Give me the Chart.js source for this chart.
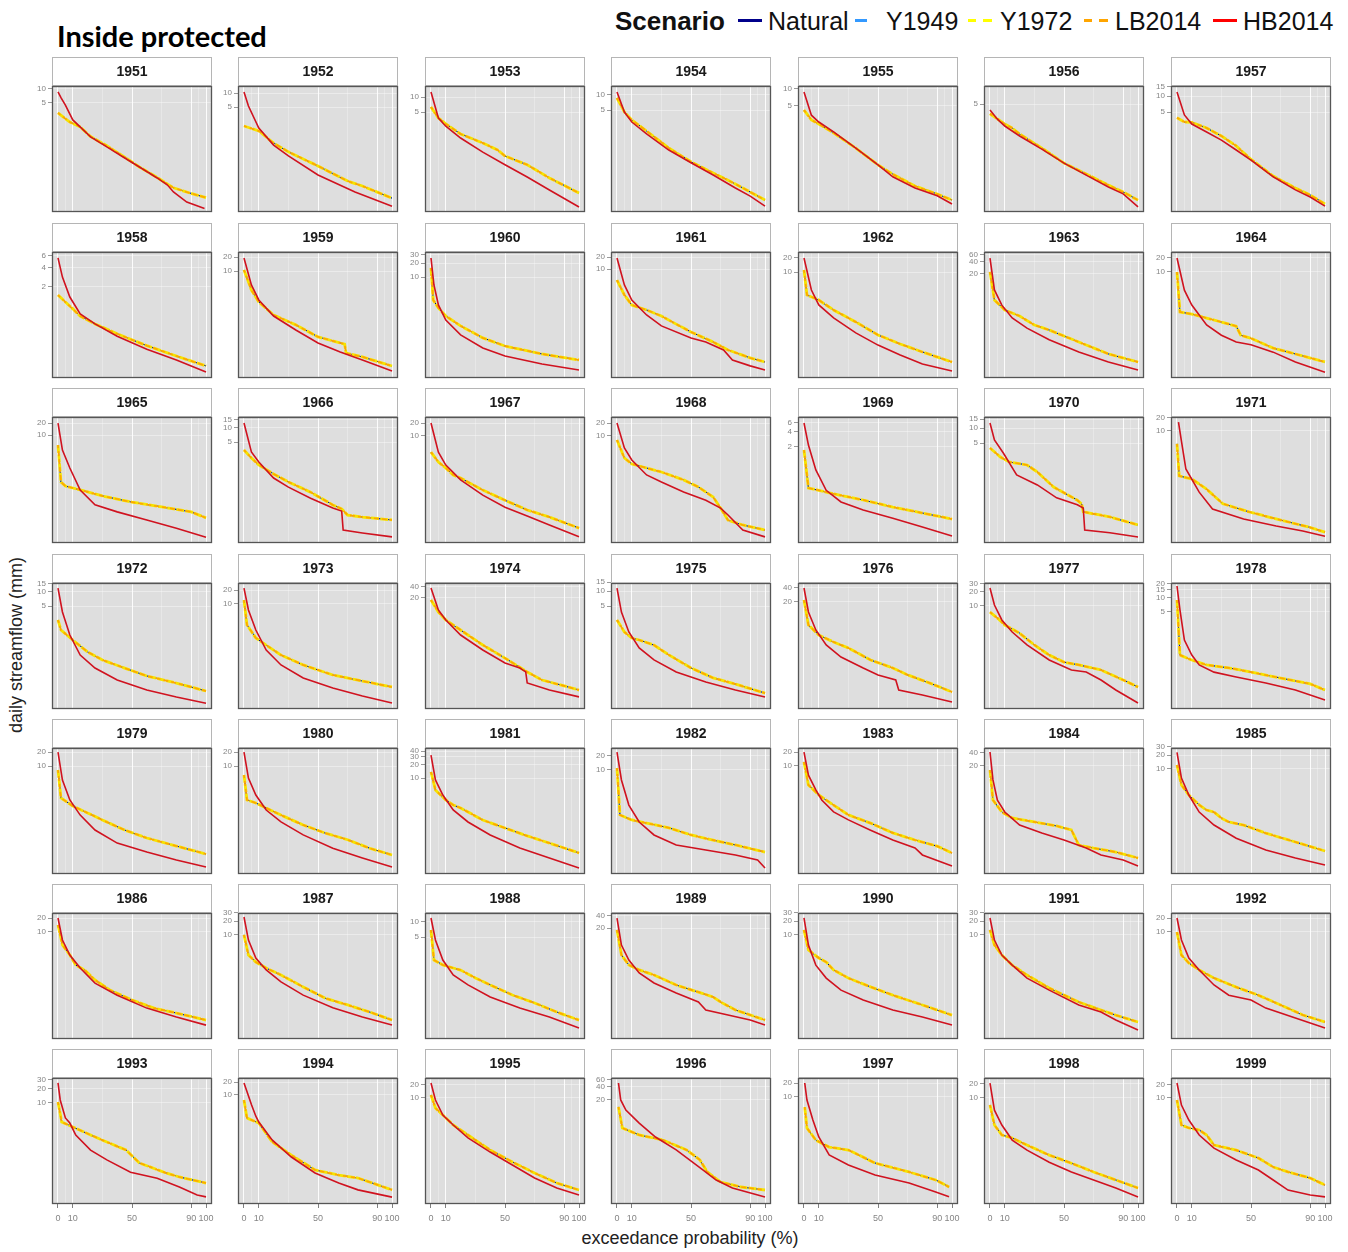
<!DOCTYPE html>
<html>
<head>
<meta charset="utf-8">
<script src="https://cdn.jsdelivr.net/npm/chart.js@4.4.1/dist/chart.umd.min.js"></script>
<style>
  html, body { margin: 0; padding: 0; background: #fff; }
  body { width: 1348px; height: 1252px; position: relative; overflow: hidden;
         font-family: "Liberation Sans", Arial, sans-serif; }
  canvas.panel { position: absolute; }
  #title { position: absolute; left: 57px; top: 18px; font: 700 29px Lato, sans-serif; color: #000; white-space: nowrap; }
  .leg { position: absolute; top: 6px; font-size: 25px; line-height: 30px; color: #111; white-space: nowrap; }
  .leg.head { font-weight: 700; font-size: 26px; }
  .key { position: absolute; top: 19px; height: 3px; }
  .axis-title { position: absolute; font-size: 18px; color: #222; white-space: nowrap; }
</style>
</head>
<body>
<div id="title">Inside protected</div>

<div class="leg head" style="left:615px">Scenario</div>
<div class="key" style="left:738px;width:24px;background:#00008b"></div>
<div class="leg" style="left:768px">Natural</div>
<div class="key" style="left:855px;width:12px;background:#3399ff"></div>
<div class="leg" style="left:886px">Y1949</div>
<div class="key" style="left:968px;width:8px;background:#ffff00"></div>
<div class="key" style="left:983px;width:9px;background:#ffff00"></div>
<div class="leg" style="left:1000px">Y1972</div>
<div class="key" style="left:1084px;width:8px;background:#ffa500"></div>
<div class="key" style="left:1099px;width:9px;background:#ffa500"></div>
<div class="leg" style="left:1115px">LB2014</div>
<div class="key" style="left:1213px;width:24px;background:#ff0000"></div>
<div class="leg" style="left:1243px">HB2014</div>

<div class="axis-title" style="left:16px;top:645px;transform:translate(-50%,-50%) rotate(-90deg)">daily streamflow (mm)</div>
<div class="axis-title" style="left:690px;top:1238px;transform:translate(-50%,-50%)">exceedance probability (%)</div>

<script>
// Years shown, one facet each (7 x 7 grid)
const years = [1951,1952,1953,1954,1955,1956,1957,
               1958,1959,1960,1961,1962,1963,1964,
               1965,1966,1967,1968,1969,1970,1971,
               1972,1973,1974,1975,1976,1977,1978,
               1979,1980,1981,1982,1983,1984,1985,
               1986,1987,1988,1989,1990,1991,1992,
               1993,1994,1995,1996,1997,1998,1999];

// Labelled y breaks (mm) for each facet
const yTickLabels = [
  [5,10],[5,10],[5,10],[5,10],[5,10],[5],[5,10,15],
  [2,4,6],[10,20],[10,20,30],[10,20],[10,20],[20,40,60],[10,20],
  [10,20],[5,10,15],[10,20],[10,20],[2,4,6],[5,10,15],[10,20],
  [5,10,15],[10,20],[20,40],[5,10,15],[20,40],[10,20,30],[5,10,15,20],
  [10,20],[10,20],[10,20,30,40],[10,20],[10,20],[20,40],[10,20,30],
  [10,20],[10,20,30],[5,10],[20,40],[10,20,30],[10,20,30],[10,20],
  [10,20,30],[10,20],[10,20],[20,40,60],[10,20],[10,20],[10,20]
];

// Free y range (log scale) for each facet: [lower, upper] in mm
const yLimits = [
  [0.0226,11.6],[0.0294,14.1],[0.050,16.6],[0.0456,15.1],[0.0635,11.3],[0.0347,11.5],[0.065,15.5],
  [0.0795,6.9],[0.0533,25.6],[0.0715,34.3],[0.0189,26.7],[0.0558,26.8],[0.042,71.5],[0.0493,27],
  [0.020,28.3],[0.0356,17.1],[0.0324,27.6],[0.0324,27.6],[0.0239,7.9],[0.050,16.6],[0.0302,20.5],
  [0.0323,15.5],[0.0518,28.4],[0.01815,51.4],[0.0438,14.5],[0.0998,51.2],[0.0608,31.2],[0.0427,20.5],
  [0.0476,24.4],[0.0476,24.4],[0.074,46.7],[0.0579,29.7],[0.0447,24.5],[0.0611,52],[0.0518,28.4],
  [0.0469,25.7],[0.0546,29.9],[0.0456,15.1],[0.0336,47.5],[0.0546,29.9],[0.0546,29.9],[0.0469,25.7],
  [0.0782,33],[0.0291,24.8],[0.0341,29],[0.065,65],[0.0469,25.7],[0.0493,27],[0.0341,29]
];

// HB2014 flow duration curves: [exceedance %, daily streamflow mm]
const hb2014 = [
  /*1951*/ [[0,8.7],[2,6.5],[5,4.5],[10,2.16],[22,0.93],[33,0.57],[44,0.345],[55,0.21],[67,0.122],[74,0.086],[78,0.061],[87,0.037],[99,0.027]],
  /*1952*/ [[0,10.5],[3,5.3],[10,1.8],[20,0.78],[30,0.46],[50,0.18],[75,0.078],[100,0.039]],
  /*1953*/ [[0,12.6],[5,3.8],[10,2.6],[20,1.51],[35,0.79],[50,0.44],[65,0.25],[80,0.138],[100,0.063]],
  /*1954*/ [[0,11.5],[5,4.56],[10,2.87],[20,1.66],[35,0.79],[50,0.44],[65,0.25],[80,0.138],[90,0.095],[100,0.06]],
  /*1955*/ [[0,8.8],[5,3.4],[10,2.57],[20,1.71],[35,0.88],[50,0.44],[60,0.27],[75,0.171],[90,0.124],[100,0.088]],
  /*1956*/ [[0,3.8],[5,2.5],[10,1.82],[20,1.15],[35,0.63],[50,0.33],[65,0.19],[80,0.11],[90,0.08],[100,0.044]],
  /*1957*/ [[0,11.9],[5,4.4],[10,2.97],[20,2.1],[30,1.48],[40,0.96],[50,0.62],[65,0.3],[80,0.17],[90,0.125],[100,0.084]],
  /*1958*/ [[0,5.6],[3,2.84],[8,1.4],[15,0.77],[25,0.54],[40,0.35],[60,0.22],[80,0.15],[100,0.098]],
  /*1959*/ [[0,19.1],[5,5.1],[10,2.44],[20,1.11],[35,0.56],[50,0.297],[65,0.19],[80,0.129],[100,0.075]],
  /*1960*/ [[0,25.6],[2,6.8],[5,2.56],[10,1.22],[20,0.59],[35,0.31],[50,0.21],[75,0.142],[100,0.106]],
  /*1961*/ [[0,18.9],[5,4.0],[10,1.68],[20,0.71],[30,0.38],[50,0.19],[60,0.15],[72,0.095],[78,0.053],[90,0.038],[100,0.03]],
  /*1962*/ [[0,20],[5,4.16],[10,2.0],[20,1.06],[35,0.51],[50,0.28],[65,0.173],[80,0.111],[100,0.079]],
  /*1963*/ [[0,50],[3,7.6],[8,3.1],[15,1.45],[25,0.8],[40,0.4],[60,0.195],[80,0.108],[100,0.067]],
  /*1964*/ [[0,20],[5,4.0],[10,1.9],[20,0.7],[30,0.42],[40,0.3],[50,0.26],[65,0.18],[80,0.11],[100,0.066]],
  /*1965*/ [[0,20],[3,4.2],[8,1.5],[15,0.42],[25,0.18],[40,0.12],[60,0.075],[80,0.047],[100,0.028]],
  /*1966*/ [[0,12.7],[5,3.08],[10,1.89],[20,0.86],[30,0.55],[45,0.32],[60,0.198],[66,0.171],[67,0.067],[80,0.058],[100,0.048]],
  /*1967*/ [[0,20],[5,4.2],[10,2.1],[20,0.95],[35,0.42],[50,0.22],[65,0.138],[80,0.085],[100,0.045]],
  /*1968*/ [[0,20],[5,5.25],[10,2.76],[20,1.24],[30,0.85],[45,0.5],[60,0.32],[70,0.21],[75,0.145],[85,0.065],[100,0.045]],
  /*1969*/ [[0,6.0],[3,2.17],[8,0.69],[15,0.27],[25,0.158],[40,0.109],[60,0.075],[80,0.05],[100,0.033]],
  /*1970*/ [[0,12.6],[3,5.76],[9,3.16],[18,1.15],[32,0.725],[45,0.4],[59,0.29],[63,0.25],[64,0.091],[81,0.08],[100,0.066]],
  /*1971*/ [[1,15.8],[3,5.9],[6,1.39],[15,0.42],[24,0.176],[45,0.105],[67,0.073],[85,0.056],[100,0.043]],
  /*1972*/ [[0,12.1],[3,3.75],[8,1.21],[15,0.455],[25,0.24],[40,0.134],[60,0.082],[80,0.058],[100,0.043]],
  /*1973*/ [[0,22],[3,7.35],[8,2.7],[15,0.99],[25,0.47],[40,0.245],[60,0.148],[80,0.099],[100,0.07]],
  /*1974*/ [[0,37.5],[5,9.35],[10,4.98],[20,1.93],[35,0.75],[50,0.33],[60,0.24],[64,0.188],[65,0.094],[80,0.06],[100,0.039]],
  /*1975*/ [[0,11.5],[3,3.8],[8,1.52],[15,0.73],[25,0.42],[40,0.24],[60,0.152],[80,0.105],[100,0.076]],
  /*1976*/ [[0,40],[3,12.2],[8,5.0],[15,2.38],[25,1.31],[40,0.76],[50,0.54],[62,0.42],[64,0.256],[80,0.2],[100,0.141]],
  /*1977*/ [[0,24.4],[3,10.5],[8,5.0],[15,2.75],[25,1.45],[40,0.69],[55,0.42],[65,0.38],[75,0.256],[85,0.156],[100,0.082]],
  /*1978*/ [[0,17.7],[2,5.5],[5,1.25],[10,0.6],[15,0.37],[25,0.26],[40,0.205],[60,0.153],[80,0.108],[100,0.066]],
  /*1979*/ [[0,20],[3,5.0],[8,1.86],[15,0.88],[25,0.42],[40,0.22],[60,0.141],[80,0.095],[100,0.067]],
  /*1980*/ [[0,20],[3,5.5],[8,2.38],[15,1.13],[25,0.63],[40,0.33],[60,0.17],[80,0.105],[100,0.067]],
  /*1981*/ [[0,32.6],[3,9.1],[8,4.2],[15,1.96],[25,1.06],[40,0.545],[60,0.28],[80,0.168],[100,0.1]],
  /*1982*/ [[0,24.3],[3,6.1],[8,1.76],[15,0.76],[25,0.4],[40,0.244],[60,0.19],[80,0.149],[95,0.116],[100,0.078]],
  /*1983*/ [[0,20],[3,6.3],[8,3.0],[12,1.82],[20,1.0],[30,0.67],[45,0.4],[60,0.245],[75,0.164],[80,0.116],[100,0.067]],
  /*1984*/ [[0,42],[2,9.4],[5,3.2],[10,1.69],[20,0.84],[35,0.55],[50,0.376],[65,0.245],[75,0.169],[90,0.129],[100,0.094]],
  /*1985*/ [[0,22.8],[3,6.3],[8,2.7],[15,1.15],[25,0.6],[40,0.31],[60,0.172],[80,0.115],[100,0.081]],
  /*1986*/ [[0,20],[3,6.65],[8,3.14],[15,1.64],[25,0.77],[40,0.42],[60,0.22],[80,0.141],[100,0.094]],
  /*1987*/ [[0,24.5],[3,7.7],[8,3.15],[15,1.73],[25,0.95],[40,0.49],[60,0.26],[80,0.164],[100,0.11]],
  /*1988*/ [[0,12],[3,4.35],[8,1.73],[15,0.87],[25,0.55],[40,0.316],[60,0.19],[80,0.126],[100,0.076]],
  /*1989*/ [[0,35.6],[3,7.5],[8,3.17],[15,1.5],[25,0.845],[40,0.475],[55,0.283],[60,0.179],[75,0.134],[90,0.1],[100,0.075]],
  /*1990*/ [[0,23.3],[3,6.0],[8,2.2],[15,1.15],[25,0.63],[40,0.384],[60,0.233],[80,0.164],[100,0.11]],
  /*1991*/ [[0,23.3],[3,7.7],[8,3.65],[15,2.2],[25,1.15],[40,0.63],[60,0.3],[75,0.21],[85,0.141],[100,0.086]],
  /*1992*/ [[0,20],[3,6.65],[8,2.7],[15,1.48],[25,0.7],[35,0.42],[50,0.33],[60,0.22],[80,0.134],[100,0.081]],
  /*1993*/ [[0,26],[1.5,11.5],[5,4.85],[8,3.8],[12,2.14],[22,1.04],[33,0.65],[49,0.36],[67,0.27],[82,0.177],[94,0.12],[100,0.11]],
  /*1994*/ [[0,19],[2,12],[5,6],[8,3.2],[10,2.35],[19,0.9],[32,0.36],[48,0.153],[64,0.09],[77,0.062],[100,0.042]],
  /*1995*/ [[0,22.2],[3,8.9],[8,4.0],[15,2.34],[25,1.17],[40,0.55],[55,0.275],[70,0.137],[85,0.08],[100,0.055]],
  /*1996*/ [[1,49.4],[2.5,19.5],[6,11.2],[15,5.5],[26,2.56],[40,1.26],[49,0.73],[58,0.42],[67,0.242],[78,0.156],[100,0.095]],
  /*1997*/ [[0.5,20],[2,8.55],[6,3.14],[10,1.34],[17,0.545],[30,0.33],[48,0.2],[71,0.134],[89,0.086],[98,0.067]],
  /*1998*/ [[0,21],[3,5.4],[8,2.57],[15,1.21],[25,0.73],[40,0.4],[55,0.245],[70,0.164],[85,0.11],[100,0.07]],
  /*1999*/ [[0,22.2],[3,6.8],[8,3.06],[15,1.37],[25,0.68],[40,0.36],[55,0.21],[65,0.123],[75,0.072],[90,0.055],[100,0.05]]
];

// Natural, Y1949, Y1972 and LB2014 curves lie on top of each other at this scale
const baseFlows = [
  /*1951*/ [[0,3.05],[8,1.95],[15,1.53],[22,0.95],[33,0.6],[44,0.36],[55,0.21],[67,0.125],[74,0.09],[78,0.075],[89,0.058],[100,0.046]],
  /*1952*/ [[0,1.99],[10,1.56],[20,0.86],[30,0.56],[50,0.28],[70,0.134],[80,0.105],[100,0.058]],
  /*1953*/ [[0,6.3],[5,3.8],[10,2.9],[20,1.82],[35,1.2],[45,0.87],[50,0.66],[65,0.44],[80,0.24],[100,0.12]],
  /*1954*/ [[0,8.7],[5,4.56],[10,3.16],[20,1.9],[35,0.87],[50,0.46],[65,0.275],[80,0.166],[100,0.079]],
  /*1955*/ [[0,4.2],[5,2.8],[10,2.37],[20,1.64],[35,0.88],[50,0.44],[60,0.3],[75,0.185],[90,0.133],[100,0.104]],
  /*1956*/ [[0,3.2],[10,2.0],[15,1.66],[20,1.26],[35,0.66],[50,0.33],[65,0.2],[80,0.12],[90,0.087],[100,0.06]],
  /*1957*/ [[0,3.9],[5,3.25],[10,3.2],[20,2.5],[30,1.77],[40,1.15],[50,0.64],[65,0.31],[80,0.184],[90,0.136],[100,0.092]],
  /*1958*/ [[0,1.5],[5,1.17],[10,0.92],[15,0.71],[25,0.54],[40,0.38],[60,0.25],[80,0.173],[100,0.122]],
  /*1959*/ [[0,10.6],[5,3.97],[10,2.21],[20,1.17],[35,0.72],[50,0.4],[68,0.28],[69,0.18],[80,0.15],[100,0.096]],
  /*1960*/ [[0,15.7],[1.5,3.27],[5,2.21],[10,1.49],[20,0.92],[35,0.51],[50,0.343],[75,0.232],[100,0.173]],
  /*1961*/ [[0,5.3],[5,2.25],[10,1.26],[20,0.95],[30,0.67],[40,0.42],[50,0.267],[65,0.15],[75,0.095],[90,0.06],[100,0.0475]],
  /*1962*/ [[0,11.1],[2,3.26],[10,2.55],[20,1.56],[35,0.87],[50,0.46],[65,0.296],[80,0.2],[100,0.122]],
  /*1963*/ [[0,22],[3,4.2],[10,2.33],[20,1.63],[30,0.96],[40,0.715],[50,0.5],[65,0.295],[80,0.174],[100,0.108]],
  /*1964*/ [[0,9.9],[2,1.34],[10,1.21],[20,0.99],[30,0.81],[40,0.66],[43,0.42],[50,0.36],[65,0.22],[80,0.164],[100,0.11]],
  /*1965*/ [[0,5.6],[2,0.67],[5,0.53],[10,0.475],[20,0.38],[30,0.3],[50,0.21],[70,0.16],[90,0.12],[100,0.085]],
  /*1966*/ [[0,3.4],[5,2.3],[10,1.63],[20,1.05],[30,0.71],[45,0.43],[60,0.23],[66,0.19],[70,0.14],[80,0.127],[100,0.11]],
  /*1967*/ [[0,4.2],[5,2.48],[10,1.8],[15,1.24],[20,1.05],[35,0.55],[50,0.32],[65,0.19],[80,0.13],[100,0.072]],
  /*1968*/ [[0,8.05],[5,3.07],[10,2.23],[20,1.8],[30,1.45],[45,0.95],[55,0.65],[65,0.38],[70,0.21],[75,0.11],[85,0.085],[100,0.065]],
  /*1969*/ [[0,1.73],[3,0.3],[10,0.27],[20,0.23],[40,0.173],[60,0.125],[80,0.095],[100,0.072]],
  /*1970*/ [[0,3.98],[7,2.63],[13,2.09],[25,1.82],[32,1.32],[43,0.66],[59,0.36],[62,0.3],[63,0.21],[81,0.166],[100,0.115]],
  /*1971*/ [[0,5.1],[1.5,0.97],[10,0.83],[20,0.49],[31,0.23],[49,0.15],[67,0.105],[89,0.069],[100,0.053]],
  /*1972*/ [[0,2.53],[2,1.55],[10,0.95],[20,0.53],[30,0.357],[45,0.24],[60,0.163],[80,0.115],[100,0.078]],
  /*1973*/ [[0,12.1],[2,3.47],[8,1.81],[15,1.27],[25,0.77],[40,0.47],[60,0.284],[80,0.21],[100,0.156]],
  /*1974*/ [[0,17.6],[5,8.2],[10,4.98],[20,2.65],[35,1.03],[50,0.45],[65,0.188],[75,0.113],[90,0.078],[100,0.06]],
  /*1975*/ [[0,2.64],[5,1.52],[10,1.15],[15,1.05],[25,0.83],[35,0.53],[50,0.29],[65,0.183],[80,0.138],[100,0.091]],
  /*1976*/ [[0,22],[3,6.4],[10,3.9],[20,2.75],[30,2.05],[45,1.13],[60,0.76],[70,0.54],[85,0.36],[100,0.232]],
  /*1977*/ [[0,7.4],[5,5.5],[10,3.9],[20,2.6],[30,1.45],[40,0.88],[50,0.62],[60,0.54],[75,0.42],[90,0.256],[100,0.18]],
  /*1978*/ [[0,8.9],[2,0.6],[10,0.47],[20,0.37],[35,0.32],[50,0.26],[70,0.195],[90,0.146],[100,0.108]],
  /*1979*/ [[0,8.2],[2,2.05],[10,1.38],[20,0.98],[30,0.69],[45,0.42],[60,0.283],[80,0.19],[100,0.128]],
  /*1980*/ [[0,6.4],[2,1.86],[8,1.6],[15,1.25],[25,0.88],[40,0.54],[55,0.36],[70,0.26],[85,0.17],[100,0.122]],
  /*1981*/ [[0,13.7],[3,5.45],[10,3.26],[15,2.53],[20,2.17],[35,1.17],[50,0.78],[65,0.52],[80,0.36],[100,0.217]],
  /*1982*/ [[0,11],[2,1.08],[10,0.84],[20,0.72],[35,0.57],[50,0.4],[65,0.31],[80,0.244],[100,0.172]],
  /*1983*/ [[0,12.2],[3,3.85],[10,2.33],[20,1.41],[30,0.86],[45,0.57],[60,0.35],[75,0.245],[90,0.18],[100,0.128]],
  /*1984*/ [[0,16],[2,3.2],[8,1.69],[15,1.23],[30,0.99],[45,0.8],[55,0.645],[60,0.288],[70,0.245],[85,0.198],[100,0.144]],
  /*1985*/ [[0,12.1],[3,4.46],[8,2.7],[15,1.64],[20,1.27],[25,1.15],[30,0.85],[35,0.7],[45,0.6],[60,0.4],[80,0.257],[100,0.164]],
  /*1986*/ [[0,14.1],[3,5.2],[8,3.14],[12,1.9],[18,1.48],[25,0.9],[35,0.545],[50,0.33],[65,0.22],[80,0.172],[100,0.121]],
  /*1987*/ [[0,10],[3,3.65],[8,2.57],[15,1.9],[25,1.34],[40,0.74],[55,0.42],[70,0.3],[85,0.21],[100,0.141]],
  /*1988*/ [[0,6.9],[2,1.73],[8,1.38],[15,1.2],[20,1.09],[30,0.76],[40,0.55],[55,0.346],[70,0.24],[85,0.158],[100,0.109]],
  /*1989*/ [[0,17.9],[3,4.23],[8,2.38],[15,1.79],[25,1.34],[40,0.75],[55,0.5],[65,0.377],[70,0.283],[80,0.179],[100,0.1]],
  /*1990*/ [[0,12.8],[3,4.7],[10,3.15],[15,2.57],[20,1.73],[30,1.15],[45,0.74],[60,0.49],[80,0.3],[100,0.18]],
  /*1991*/ [[0,12.8],[3,6.0],[8,3.65],[15,2.2],[25,1.34],[40,0.7],[60,0.347],[75,0.233],[85,0.18],[100,0.128]],
  /*1992*/ [[0,9.9],[3,3.14],[8,2.1],[15,1.48],[25,0.99],[40,0.63],[55,0.42],[70,0.257],[85,0.156],[100,0.11]],
  /*1993*/ [[0,10.4],[2.5,4.0],[10,3.15],[22,2.14],[33,1.53],[46,1.04],[55,0.56],[73,0.347],[82,0.286],[100,0.214]],
  /*1994*/ [[0,7.6],[2,2.9],[10,2.23],[19,0.81],[32,0.4],[48,0.18],[64,0.137],[77,0.117],[100,0.062]],
  /*1995*/ [[0,11.7],[3,5.8],[8,4.0],[15,2.34],[25,1.37],[40,0.615],[55,0.323],[70,0.179],[85,0.105],[100,0.072]],
  /*1996*/ [[1,13.3],[3.6,4.2],[15,2.86],[31,2.17],[47,1.26],[56,0.73],[61,0.376],[70,0.217],[84,0.165],[100,0.14]],
  /*1997*/ [[0.5,6.0],[2,2.1],[8,1.15],[17,0.81],[30,0.7],[48,0.365],[71,0.233],[89,0.156],[98,0.11]],
  /*1998*/ [[0,7.0],[3,2.57],[8,1.56],[15,1.34],[25,0.94],[40,0.57],[55,0.38],[70,0.245],[85,0.164],[100,0.11]],
  /*1999*/ [[0,8.9],[3,2.34],[8,2.0],[15,1.79],[20,1.37],[25,0.8],[40,0.61],[55,0.4],[65,0.247],[75,0.19],[90,0.137],[100,0.094]]
];

// Exceedance breaks: labelled majors and unlabelled minors
const xMajor = [0, 10, 50, 90, 100];
const xMinor = [5, 30, 70, 95];

// ---- layout of the facet grid ----
const colLeft = [52, 238, 425, 611, 798, 984, 1171];   // left edge of each panel
const rowTop  = [86, 252, 417, 583, 748, 913, 1078];   // top edge of each panel
const PANEL_W = 160, PANEL_H = 126, STRIP_H = 30, YAXIS_W = 24, XAXIS_H = 24;

Chart.defaults.font.family = '"Liberation Sans", Arial, sans-serif';
Chart.defaults.animation = false;

// Grey panel, white strip with the year, dark panel frame
const facetDecor = {
  id: 'facetDecor',
  beforeDraw(chart, args, opts) {
    const { ctx, chartArea: a } = chart;
    ctx.save();
    ctx.fillStyle = '#dedede';
    ctx.fillRect(a.left, a.top, a.right - a.left, a.bottom - a.top);
    ctx.fillStyle = '#ffffff';
    ctx.fillRect(a.left, a.top - STRIP_H + 1, a.right - a.left, STRIP_H - 1);
    ctx.strokeStyle = '#b5b5b5';
    ctx.lineWidth = 1;
    ctx.strokeRect(a.left + 0.5, a.top - STRIP_H + 1.5, a.right - a.left - 1, STRIP_H - 2);
    ctx.fillStyle = '#1a1a1a';
    ctx.font = 'bold 14px "Liberation Sans", Arial, sans-serif';
    ctx.textAlign = 'center';
    ctx.textBaseline = 'middle';
    ctx.fillText(opts.label, (a.left + a.right) / 2, a.top - STRIP_H / 2 + 1);
    ctx.restore();
  },
  afterDatasetsDraw(chart) {
    const { ctx, chartArea: a } = chart;
    ctx.save();
    ctx.strokeStyle = '#555555';
    ctx.lineWidth = 1.3;
    ctx.strokeRect(a.left + 0.5, a.top + 0.5, a.right - a.left - 1, a.bottom - a.top - 1);
    ctx.restore();
  }
};

const toXY = pts => pts.map(([x, y]) => ({ x, y }));

years.forEach((year, i) => {
  const r = Math.floor(i / 7), c = i % 7;
  const bottom = r === 6;
  const canvas = document.createElement('canvas');
  canvas.className = 'panel';
  canvas.width = YAXIS_W + PANEL_W + 4;
  canvas.height = STRIP_H + PANEL_H + (bottom ? XAXIS_H : 1);
  canvas.style.left = (colLeft[c] - YAXIS_W) + 'px';
  canvas.style.top = (rowTop[r] - STRIP_H) + 'px';
  document.body.appendChild(canvas);

  const base = toXY(baseFlows[i]);
  const line = (label, data, color, width, order, dash, offset) => ({
    label, data, borderColor: color, backgroundColor: color, borderWidth: width,
    borderDash: dash || [], borderDashOffset: offset || 0, order,
    pointRadius: 0, tension: 0, fill: false
  });

  new Chart(canvas, {
    type: 'line',
    data: {
      datasets: [
        line('Natural', base, '#00008b', 1.0, 3),
        line('Y1949', base, '#3399ff', 1.0, 4),
        line('Y1972', base, '#f5e400', 2.8, 2, [8, 1.2]),
        line('LB2014', base, '#ffa500', 1.6, 1, [5, 3], 2),
        line('HB2014', toXY(hb2014[i]), '#d0121f', 1.6, 0)
      ]
    },
    options: {
      responsive: false,
      devicePixelRatio: 1,
      animation: false,
      events: [],
      layout: { padding: { top: STRIP_H, left: 0, right: 4, bottom: bottom ? 0 : 1 } },
      plugins: {
        legend: { display: false },
        tooltip: { enabled: false },
        facetDecor: { label: String(year) }
      },
      scales: {
        x: {
          type: 'linear', bounds: 'data', min: -4.05, max: 104.05,
          afterBuildTicks: s => { s.ticks = [...xMajor, ...xMinor].sort((a, b) => a - b).map(v => ({ value: v })); },
          afterFit: s => { s.height = bottom ? XAXIS_H : 0; s.paddingLeft = 0; s.paddingRight = 0; },
          border: { display: false },
          grid: {
            color: ctx => xMajor.includes(ctx.tick && ctx.tick.value) ? 'rgba(255,255,255,0.9)' : 'rgba(255,255,255,0.45)',
            lineWidth: ctx => xMajor.includes(ctx.tick && ctx.tick.value) ? 1 : 0.6,
            drawTicks: bottom, tickLength: 4,
            tickColor: ctx => xMajor.includes(ctx.tick && ctx.tick.value) ? '#808080' : 'rgba(0,0,0,0)'
          },
          ticks: {
            display: bottom, autoSkip: false, maxRotation: 0, padding: 5,
            font: { size: 9 }, color: '#858585',
            callback: v => xMajor.includes(v) ? String(v) : ''
          }
        },
        y: {
          type: 'logarithmic', bounds: 'data', min: yLimits[i][0], max: yLimits[i][1],
          afterBuildTicks: s => { s.ticks = yTickLabels[i].map(v => ({ value: v })); },
          afterFit: s => { s.width = YAXIS_W; s.paddingTop = 0; s.paddingBottom = 0; },
          border: { display: false },
          grid: { color: 'rgba(255,255,255,0.5)', lineWidth: 0.8, drawTicks: true, tickLength: 4, tickColor: '#808080' },
          ticks: { autoSkip: false, padding: 2, font: { size: 8 }, color: '#858585', callback: v => String(v) }
        }
      }
    },
    plugins: [facetDecor]
  });
});
</script>
</body>
</html>
